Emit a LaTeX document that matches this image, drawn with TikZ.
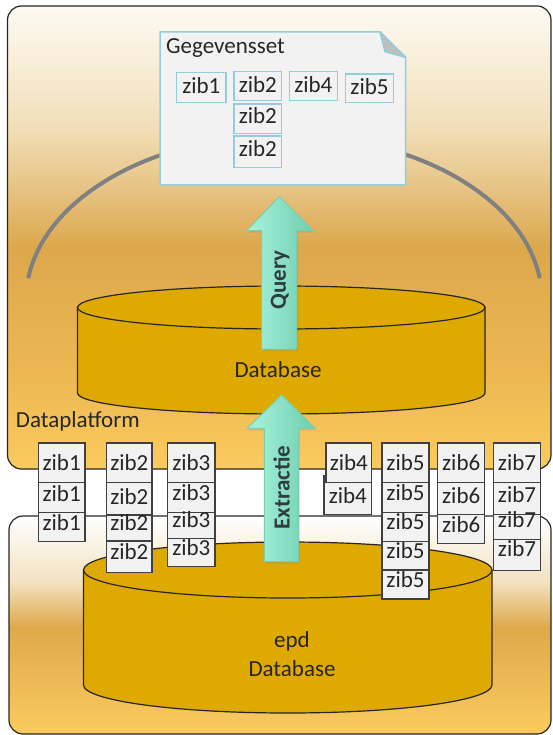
\documentclass[tikz,border=0pt]{standalone}
\usepackage{fontspec}
\setmainfont{Carlito}
\usetikzlibrary{shadows}
\definecolor{ink}{HTML}{262626}
\definecolor{boxfill}{HTML}{F2F2F2}
\definecolor{boxline}{HTML}{404040}
\definecolor{docline}{HTML}{92CDDC}
\definecolor{dbfill}{HTML}{DEA900}
\definecolor{arcgray}{HTML}{808080}
\definecolor{mintL}{HTML}{A8F3DB}
\definecolor{mintR}{HTML}{6FCEAF}
\definecolor{mintline}{HTML}{78D0B4}
\definecolor{arrowtxt}{HTML}{2F3D3B}
\definecolor{foldgray}{HTML}{BFBFBF}
\definecolor{tpA}{HTML}{FBCB5F}
\definecolor{tpB}{HTML}{EDB852}
\definecolor{tpC}{HTML}{DCA84C}
\definecolor{tpD}{HTML}{E6C282}
\definecolor{tpE}{HTML}{F2DFB9}
\definecolor{tpF}{HTML}{FDFAF3}
\definecolor{bpA}{HTML}{FBCB5F}
\definecolor{bpB}{HTML}{DEA94B}
\definecolor{bpC}{HTML}{F3E2C2}
\definecolor{bpD}{HTML}{FFFFFF}
\pgfdeclareverticalshading{toppanel}{100bp}{color(0bp)=(tpA); color(25bp)=(tpA); color(35bp)=(tpB); color(49bp)=(tpC); color(55bp)=(tpD); color(62bp)=(tpE); color(75bp)=(tpF); color(100bp)=(tpF)}
\pgfdeclareverticalshading{botpanel}{100bp}{color(0bp)=(bpA); color(25bp)=(bpA); color(49.5bp)=(bpB); color(60bp)=(bpC); color(75bp)=(bpD); color(100bp)=(bpD)}
\newcommand{\diagfont}{\fontsize{23}{27}\selectfont}
\tikzset{
  zibrect/.style={draw=boxline, fill=boxfill, line width=1.3pt, inner sep=0pt, outer sep=0pt},
  gzibrect/.style={draw=docline, fill=boxfill, line width=1.5pt, inner sep=0pt, outer sep=0pt},
  lbl/.style={font=\diagfont, text=ink, inner sep=0pt, text height=15.6pt, text depth=0pt},
  arrowtext/.style={font=\diagfont\bfseries, text=arrowtxt, inner sep=0pt, rotate=90, text height=15.6pt, text depth=0pt},
  mintarrow/.style={left color=mintL, right color=mintR, draw=mintline, line width=1pt,
     drop shadow={shadow xshift=1.5pt, shadow yshift=-2pt, opacity=0.22}},
  dbshape/.style={fill=dbfill, draw=ink, line width=1.2pt},
  panelline/.style={draw=ink, line width=1.2pt, rounded corners=14pt},
  arcline/.style={draw=arcgray, line width=4pt}
}
\newcommand{\zibb}[7]{%
  \node[zibrect, minimum width=#6pt, minimum height=#7pt] (#1) at (#2,#3) {};
  \node[lbl] (#1t) at (#2,#4) {#5};}
\newcommand{\gzibb}[7]{%
  \node[gzibrect, minimum width=#6pt, minimum height=#7pt] (#1) at (#2,#3) {};
  \node[lbl] (#1t) at (#2,#4) {#5};}
\begin{document}
\begin{tikzpicture}[x=1pt, y=-1pt]
\useasboundingbox (0,0) rectangle (552,735);
% panels
\shadedraw[shading=toppanel, panelline] (7.5,6) rectangle (551,469);
\shadedraw[shading=botpanel, panelline] (9,516) rectangle (551,734);
% arc (part of an ellipse centred at (284,300))
\coordinate (arcR) at (539.7,278.2);
\draw[arcline] (arcR) arc[start angle=7.6, end angle=172.4, x radius=258pt, y radius=165pt];
% top database
\path[dbshape] (77.5,307.5) -- (77.5,393) arc[start angle=180, end angle=360, x radius=203.75pt, y radius=21pt] -- (485,307.5) -- cycle;
\path[dbshape] (281.25,307.5) ellipse[x radius=203.75pt, y radius=21.5pt];
\node[lbl] (db1) at (278,370) {Database};
% query arrow
\path[mintarrow] (261.7,349) -- (261.7,230.7) -- (246.7,230.7) -- (279.3,196.7) -- (313.3,230.7) -- (296.7,230.7) -- (296.7,349) -- cycle;
\node[arrowtext] (query) at (278,280) {Query};
% document
\path[fill=boxfill, draw=docline, line width=1.5pt] (160,32) -- (380,32) -- (405.5,57.3) -- (405.5,185) -- (160,185) -- cycle;
\path[fill=foldgray, draw=docline, line width=1.5pt, line join=round] (380,32) -- (385,51.7) -- (405.5,57.3) -- cycle;
\node[lbl, anchor=west] (gset) at (166,46) {Gegevensset};
\gzibb{g1}{201.35}{87.5}{85.7}{zib1}{49.3}{29.6}
\gzibb{g2a}{257.85}{86.1}{85}{zib2}{47.7}{29.2}
\gzibb{g2b}{257.85}{118.65}{116}{zib2}{47.7}{29.3}
\gzibb{g2c}{257.85}{151.65}{149}{zib2}{47.7}{31.3}
\gzibb{g4}{313.3}{86.2}{85}{zib4}{48}{29}
\gzibb{g5}{369.5}{88.35}{87}{zib5}{47.6}{28.7}
% platform label
\node[lbl, anchor=west] (dp) at (15.8,420) {Dataplatform};
% bottom database
\path[dbshape] (83.5,570) -- (83.5,685) arc[start angle=180, end angle=360, x radius=204.25pt, y radius=28pt] -- (492,570) -- cycle;
\path[dbshape] (287.75,570) ellipse[x radius=204.25pt, y radius=28pt];
\node[lbl] (epd) at (292,640) {epd};
\node[lbl] (db2) at (292,669) {Database};
% extractie arrow
\path[mintarrow] (264.3,561.7) -- (264.3,428.3) -- (247.3,428.3) -- (281.7,395) -- (315,428.3) -- (298.3,428.3) -- (298.3,561.7) -- cycle;
\node[arrowtext] (extr) at (281.7,487.5) {Extractie};
% zib columns
\zibb{z1a}{61.65}{462.65}{463}{zib1}{46.7}{39.3}
\zibb{z1b}{61.65}{497.3}{493.8}{zib1}{46.7}{30}
\zibb{z1c}{61.65}{527}{522.5}{zib1}{46.7}{29.4}
\zibb{z2a}{129.35}{462.85}{463}{zib2}{45.3}{39.7}
\zibb{z2b}{129.35}{498.85}{496.7}{zib2}{45.3}{32.3}
\zibb{z2c}{129.35}{528}{523}{zib2}{45.3}{26}
\zibb{z2d}{129.35}{556.65}{552}{zib2}{45.3}{31.3}
\zibb{z3a}{191.35}{462.65}{463}{zib3}{47.3}{39.3}
\zibb{z3b}{191.35}{497.3}{493}{zib3}{47.3}{30}
\zibb{z3c}{191.35}{525.3}{520}{zib3}{47.3}{26}
\zibb{z3d}{191.35}{552.5}{548}{zib3}{47.3}{28.4}
\zibb{z4b}{347.85}{495.15}{496}{zib4}{47.7}{38.3}
\zibb{z4a}{348.85}{462.65}{463}{zib4}{45.7}{39.3}
\zibb{z5a}{405.5}{462.65}{463}{zib5}{47}{39.3}
\zibb{z5b}{405.5}{497.5}{492.7}{zib5}{47}{30.4}
\zibb{z5c}{405.5}{527}{522}{zib5}{47}{28.6}
\zibb{z5d}{405.5}{555.65}{551}{zib5}{47}{28.7}
\zibb{z5e}{405.5}{584.5}{580}{zib5}{47}{29}
\zibb{z6a}{461.2}{462.65}{463}{zib6}{47}{39.3}
\zibb{z6b}{461.2}{498.3}{496}{zib6}{47}{32}
\zibb{z6c}{461.2}{528.8}{525}{zib6}{47}{29}
\zibb{z7a}{517}{462.65}{463}{zib7}{47.4}{39.3}
\zibb{z7b}{517}{498.3}{495}{zib7}{47.4}{32}
\zibb{z7c}{517}{527}{520}{zib7}{47.4}{25.4}
\zibb{z7d}{517}{555}{549}{zib7}{47.4}{30.6}
\end{tikzpicture}
\end{document}
